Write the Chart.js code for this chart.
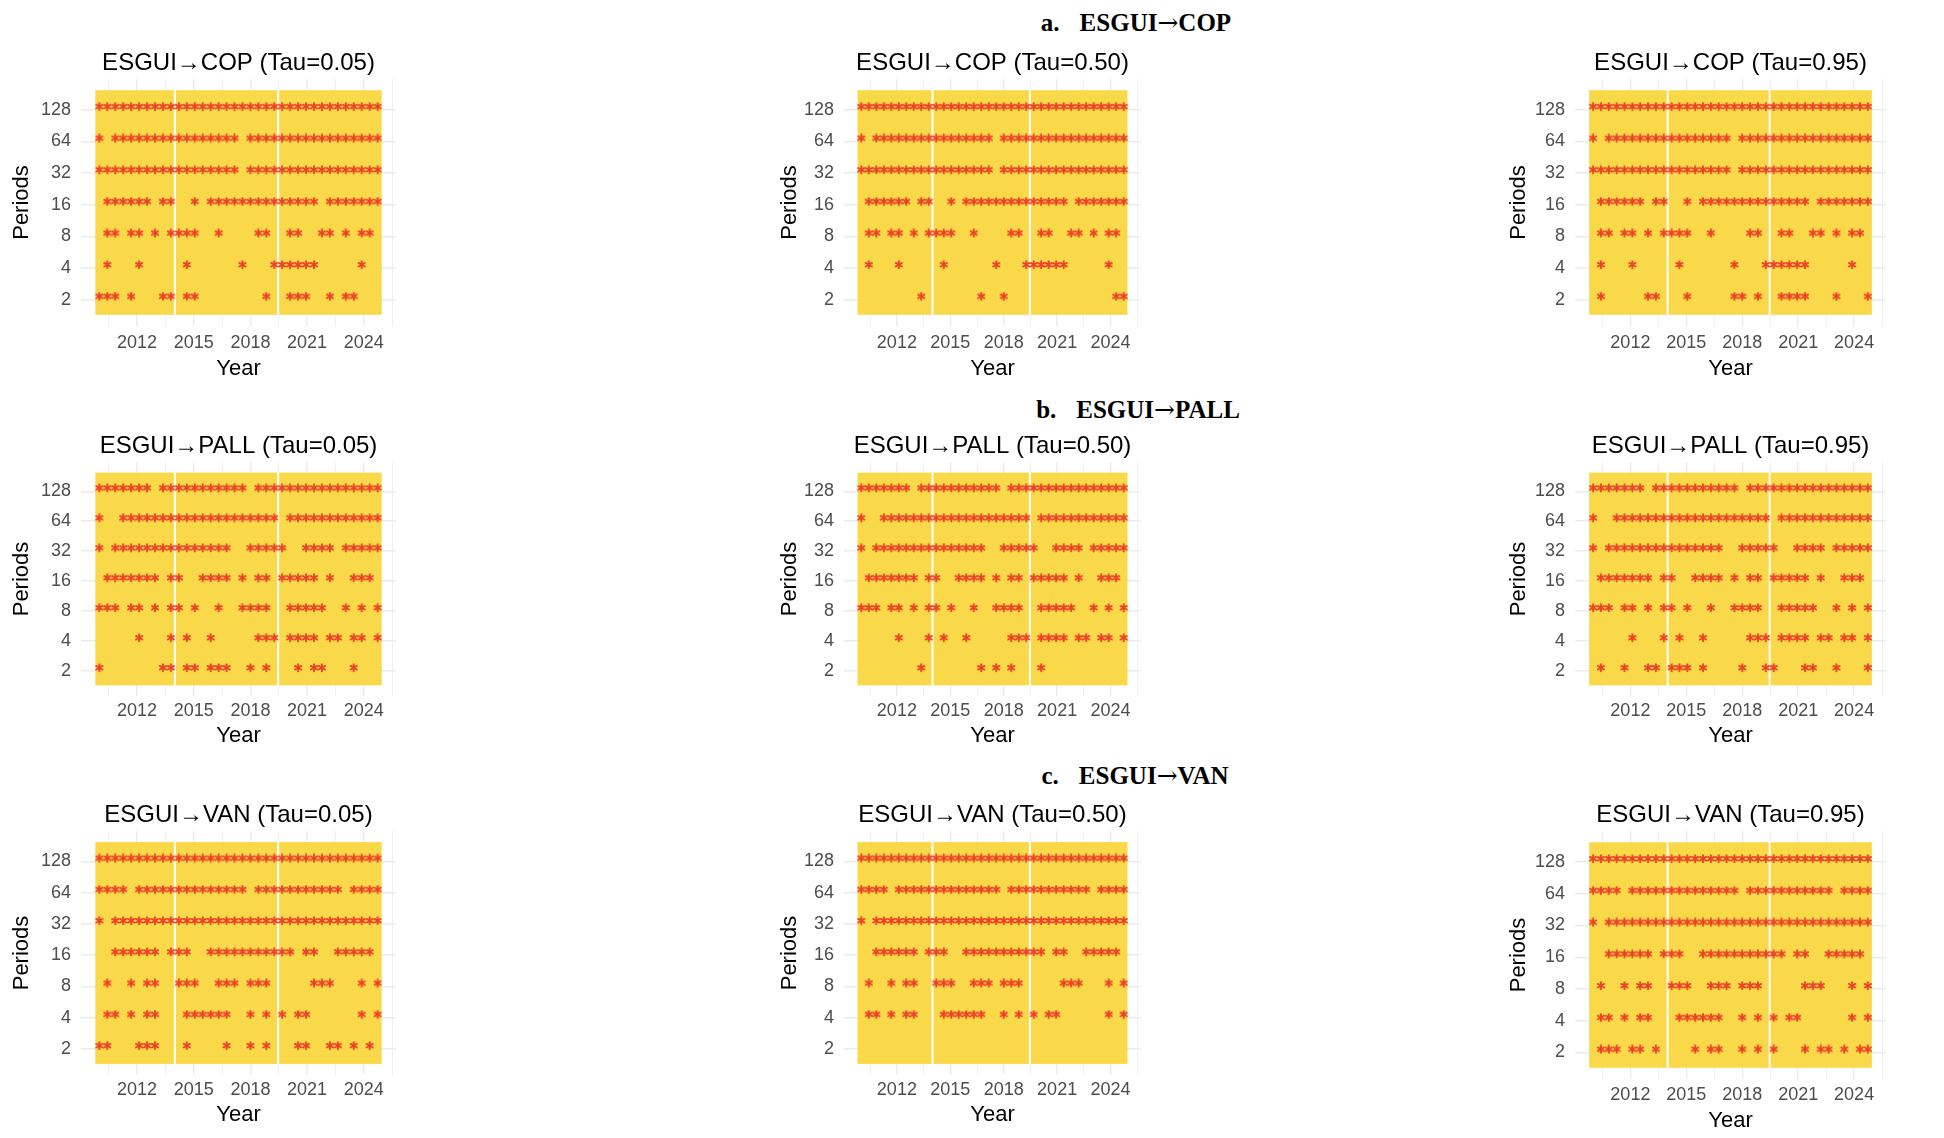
<!DOCTYPE html>
<html>
<head>
<meta charset="utf-8">
<script src="https://cdn.jsdelivr.net/npm/chart.js"></script>
<style>
body { margin: 0; background: #fff; width: 1944px; height: 1138px; position: relative; overflow: hidden; }
.box { position: absolute; }
.head { position: absolute; font-family: "Liberation Serif", "Times New Roman", serif; font-weight: bold; font-size: 25px; line-height: 1; color: #000; transform: translate(-50%, -50%); white-space: pre; }
.head .gap { display: inline-block; width: 20px; }
.head .arr { font-family: "DejaVu Serif", serif; font-weight: normal; }
</style>
</head>
<body>
<div class="head" style="left:1136px;top:22px">a.<span class="gap"></span>ESGUI<span class="arr">→</span>COP</div>
<div class="head" style="left:1138px;top:409px">b.<span class="gap"></span>ESGUI<span class="arr">→</span>PALL</div>
<div class="head" style="left:1135px;top:775px">c.<span class="gap"></span>ESGUI<span class="arr">→</span>VAN</div>
<script>
// time grid of the wavelet map (decimal years), one entry per column
const times = [2010.000, 2010.421, 2010.842, 2011.263, 2011.684, 2012.105, 2012.526, 2012.947, 2013.368,
  2013.789, 2014.210, 2014.631, 2015.052, 2015.473, 2015.894, 2016.315, 2016.736, 2017.157, 2017.578,
  2017.999, 2018.420, 2018.841, 2019.262, 2019.683, 2020.104, 2020.525, 2020.946, 2021.367, 2021.788,
  2022.209, 2022.630, 2023.051, 2023.472, 2023.893, 2024.314, 2024.735];
const periods = [128, 64, 32, 16, 8, 4, 2];
const tickYears = [2012, 2015, 2018, 2021, 2024];
const minorYears = [2010.5, 2013.5, 2016.5, 2019.5, 2022.5, 2025.5];
const gapYears = [2014.0, 2019.47];

// significance marks, one string per period (128 on top), '*' = significant
const cop05 = [
  '************************************',
  '* **************** *****************',
  '****************** *****************',
  ' ****** **  * ************** *******',
  ' ** ** * ****  *    **  **  ** * ** ',
  ' *   *     *      *   ******     *  ',
  '*** *   ** **        *  ***  * **   '];
const cop50 = [
  '************************************',
  '* **************** *****************',
  '****************** *****************',
  ' ****** **  * ************** *******',
  ' ** ** * ****  *    **  **  ** * ** ',
  ' *   *     *      *   ******     *  ',
  '        *       *  *              **'];
const cop95 = [
  '************************************',
  '* **************** *****************',
  '****************** *****************',
  ' ****** **  * ************** *******',
  ' ** ** * ****  *    **  **  ** * ** ',
  ' *   *     *      *   ******     *  ',
  ' *     **   *     ** *  ****   *   *'];
const pall05 = [
  '******* *********** ****************',
  '*  ******************** ************',
  '* ***************  *****  **** *****',
  ' ******* **  **** * ** ***** *  *** ',
  '*** ** * ** *  *  ****  *****  * * *',
  '     *   * *  *     *** **** ** ** *',
  '*       ** ** ***  * *   * **   *   '];
const pall50 = [
  '******* *********** ****************',
  '*  ******************** ************',
  '* ***************  *****  **** *****',
  ' ******* **  **** * ** ***** *  *** ',
  '*** ** * ** *  *  ****  *****  * * *',
  '     *   * *  *     *** **** ** ** *',
  '        *       * * *   *           '];
const pall95 = [
  '******* *********** ****************',
  '*  ******************** ************',
  '* ***************  *****  **** *****',
  ' ******* **  **** * ** ***** *  *** ',
  '*** ** * ** *  *  ****  *****  * * *',
  '     *   * *  *     *** **** ** ** *',
  ' *  *  ** *** *    *  **   **  *   *'];
const van05 = [
  '************************************',
  '**** ************** *********** ****',
  '* **********************************',
  '  ****** ***  *********** **  ***** ',
  ' *  * **  ***  *** ***     ***   * *',
  ' ** * **   ******  * * * **      * *',
  '**   ***   *    *  * *   **  ** * * '];
const van50 = [
  '************************************',
  '**** ************** *********** ****',
  '* **********************************',
  '  ****** ***  *********** **  ***** ',
  ' *  * **  ***  *** ***     ***   * *',
  ' ** * **   ******  * * * **      * *',
  '                                    '];
const van95 = [
  '************************************',
  '**** ************** *********** ****',
  '* **********************************',
  '  ****** ***  *********** **  ***** ',
  ' *  * **  ***  *** ***     ***   * *',
  ' ** * **   ******  * * * **      * *',
  ' *** ** *    * **  * * *   * ** * **'];

const panels = [
  { title: 'ESGUI→COP (Tau=0.05)', marks: cop05, col: 0, row: 0 },
  { title: 'ESGUI→COP (Tau=0.50)', marks: cop50, col: 1, row: 0 },
  { title: 'ESGUI→COP (Tau=0.95)', marks: cop95, col: 2, row: 0 },
  { title: 'ESGUI→PALL (Tau=0.05)', marks: pall05, col: 0, row: 1 },
  { title: 'ESGUI→PALL (Tau=0.50)', marks: pall50, col: 1, row: 1 },
  { title: 'ESGUI→PALL (Tau=0.95)', marks: pall95, col: 2, row: 1 },
  { title: 'ESGUI→VAN (Tau=0.05)', marks: van05, col: 0, row: 2 },
  { title: 'ESGUI→VAN (Tau=0.50)', marks: van50, col: 1, row: 2 },
  { title: 'ESGUI→VAN (Tau=0.95)', marks: van95, col: 2, row: 2, box: { top: 831, height: 248, tickPad: 5, yearPad: 1 } },
];

// layout of the panels on the page (plot area in px)
const colBox = [{ left: 81, width: 315, wy: 75 }, { left: 844, width: 297, wy: 70 }, { left: 1575, width: 311, wy: 72 }];
const rowBox = [
  { top: 79, height: 247, tickPad: 6, yearPad: 0 },
  { top: 462, height: 234, tickPad: 4, yearPad: 3 },
  { top: 831, height: 244, tickPad: 4, yearPad: 3 }];
const titleBlock = 36, axisH = 56, padRight = 10;

const FONT = '"Liberation Sans", Arial, sans-serif';
const yellow = '#F9D849';
const red = '#EB4328';
const xMin = 2009.03, xMax = 2025.71;
const tileX = [2009.79, 2024.95];
const tileY = [Math.pow(2, 0.52), Math.pow(2, 7.62)];
const yMin = Math.pow(2, 0.165), yMax = Math.pow(2, 7.975);

// six-armed asterisk, drawn slightly above its anchor like a text glyph
function starImage() {
  const c = document.createElement('canvas');
  c.width = 16; c.height = 16;
  const g = c.getContext('2d');
  const cx = 8, cy = 8 - 3.3, rad = 3.6;
  g.strokeStyle = red;
  g.lineWidth = 1.9;
  g.lineCap = 'round';
  [90, 30, -30].forEach(a => {
    const t = a * Math.PI / 180;
    g.beginPath();
    g.moveTo(cx - rad * Math.cos(t), cy - rad * Math.sin(t));
    g.lineTo(cx + rad * Math.cos(t), cy + rad * Math.sin(t));
    g.stroke();
  });
  return c;
}
const star = starImage();

const tilePlugin = {
  id: 'tiles',
  beforeDatasetsDraw(chart) {
    const { ctx, scales: { x, y } } = chart;
    const l = x.getPixelForValue(tileX[0]), r = x.getPixelForValue(tileX[1]);
    const t = y.getPixelForValue(tileY[1]), b = y.getPixelForValue(tileY[0]);
    ctx.save();
    ctx.fillStyle = yellow;
    ctx.fillRect(l, t, r - l, b - t);
    ctx.strokeStyle = '#ffffff';
    ctx.lineWidth = 2;
    gapYears.forEach(gy => {
      const px = x.getPixelForValue(gy);
      ctx.beginPath(); ctx.moveTo(px, t); ctx.lineTo(px, b); ctx.stroke();
    });
    ctx.restore();
  }
};

const xTicks = tickYears.concat(minorYears).sort((a, b) => a - b);

panels.forEach(p => {
  const c = colBox[p.col], r = p.box || rowBox[p.row];
  const wrap = document.createElement('div');
  wrap.className = 'box';
  wrap.style.left = (c.left - c.wy) + 'px';
  wrap.style.top = (r.top - titleBlock) + 'px';
  wrap.style.width = (c.wy + c.width + padRight) + 'px';
  wrap.style.height = (titleBlock + r.height + axisH) + 'px';
  const cv = document.createElement('canvas');
  wrap.appendChild(cv);
  document.body.appendChild(wrap);

  const pts = [];
  p.marks.forEach((row, k) => {
    for (let i = 0; i < row.length; i++) {
      if (row[i] === '*') pts.push({ x: times[i], y: periods[k] });
    }
  });

  new Chart(cv, {
    type: 'scatter',
    data: {
      datasets: [{
        data: pts,
        pointStyle: star,
        pointRadius: 4,
        pointHoverRadius: 4,
        backgroundColor: red,
        borderWidth: 0,
      }]
    },
    options: {
      responsive: true,
      maintainAspectRatio: false,
      animation: false,
      events: [],
      layout: { padding: { left: 0, right: padRight, top: 0, bottom: 0 } },
      plugins: {
        legend: { display: false },
        tooltip: { enabled: false },
        title: {
          display: true,
          text: p.title,
          fullSize: false,
          color: '#000',
          font: { family: FONT, size: 24, weight: 'normal' },
          padding: { top: 6, bottom: 1.2 },
        },
      },
      scales: {
        x: {
          type: 'linear',
          min: xMin,
          max: xMax,
          afterBuildTicks: s => { s.ticks = xTicks.map(v => ({ value: v })); },
          afterFit: s => { s.height = axisH; },
          ticks: {
            autoSkip: false, maxRotation: 0, minRotation: 0, padding: r.tickPad,
            color: '#4D4D4D', font: { family: FONT, size: 18 },
            callback: v => tickYears.includes(v) ? String(v) : '',
          },
          grid: {
            drawTicks: false,
            color: '#EBEBEB',
            lineWidth: ctx => (ctx.tick && tickYears.includes(ctx.tick.value)) ? 1.4 : 0.8,
          },
          border: { display: false },
          title: { display: true, text: 'Year', color: '#000', font: { family: FONT, size: 22 }, padding: { top: 0, bottom: r.yearPad } },
        },
        y: {
          type: 'logarithmic',
          min: yMin,
          max: yMax,
          afterBuildTicks: s => { s.ticks = periods.slice().reverse().map(v => ({ value: v })); },
          afterFit: s => { s.width = c.wy; },
          ticks: {
            padding: 10, color: '#4D4D4D', font: { family: FONT, size: 18 },
            callback: v => String(v),
          },
          grid: { drawTicks: false, color: '#EBEBEB', lineWidth: 1.4 },
          border: { display: false },
          title: { display: true, text: 'Periods', color: '#000', font: { family: FONT, size: 22 }, padding: { top: 3, bottom: 0 } },
        },
      },
    },
    plugins: [tilePlugin],
  });
});
</script>
</body>
</html>
